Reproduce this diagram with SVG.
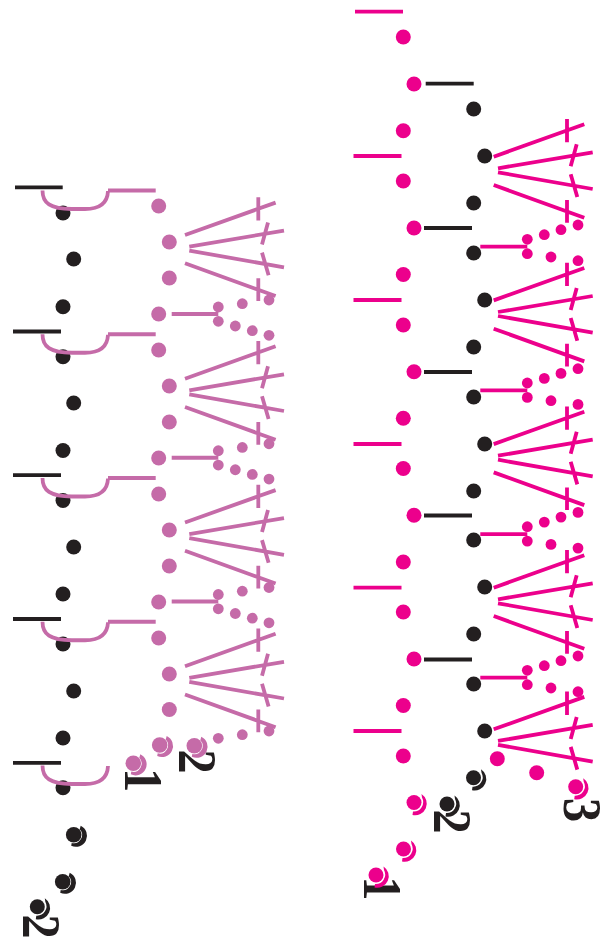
<svg xmlns="http://www.w3.org/2000/svg" width="613" height="941" viewBox="0 0 613 941">
<style>
.k{color:#231f20}.m{color:#ec008c}.p{color:#c56ba8}
.ln{fill:none;stroke:currentColor;stroke-width:3.8}
.dot{fill:currentColor}
.num{font-family:"Liberation Serif","Times New Roman",serif;font-weight:bold;font-size:55px;fill:#231f20;text-anchor:middle}
</style>
<defs>
<circle id="d" class="dot" r="7.5"/>
<circle id="s" class="dot" r="5.4"/>
<path id="fan3" class="ln" d="M9 .7L99.6-31.7M13.3 12.3L108-3.7M13.3 16.3L108 33M82.3-37V-13.7M92-11.7L86 10.3M86 18.3L92.6 41"/>
<g id="fan"><use href="#fan3"/><path class="ln" d="M9 29L99.6 61.7M82.3 44V66.7"/></g>
<g id="sw"><circle class="dot" r="7.5"/><path class="dot" d="M7.5-8.5A11.6 11.6 0 0 1-1.5 12.5L-1 9A9.5 9.5 0 0 0 8-5Z"/></g>
<g id="sw2"><circle class="dot" r="7.8"/><path class="dot" d="M7-9A11 11 0 0 1-2.5 11L-2 8.3A8.3 8.3 0 0 0 6-5.5Z"/></g>
<path id="br" class="ln" d="M42.5 190.5C42.5 203 50 209 72 209L85 209C100 209 107.5 203 108 191"/>
<path id="tail" class="ln" d="M108 190.5H155.7"/>
</defs>

<g id="labels">
<text class="num" transform="translate(125 780) rotate(90) scale(.88 1)">1</text>
<text class="num" transform="translate(179 761.7) rotate(90) scale(.88 1)">2</text>
<text class="num" transform="translate(22.7 926.7) rotate(90) scale(.88 1)">2</text>
<text class="num" transform="translate(364.3 888.3) rotate(90) scale(.88 1)">1</text>
<text class="num" transform="translate(434.3 821.7) rotate(90) scale(.88 1)">2</text>
<text class="num" transform="translate(564 810) rotate(90) scale(.88 1)">3</text>
</g>

<g id="left-black" class="k">
<g id="left-bars" class="ln"><path d="M15 187.3H62.7M13 331.5H61M13 475.2H61M13 619H61M13 762.8H61"/></g>
<use href="#d" x="63" y="213"/><use href="#d" x="73.7" y="259"/><use href="#d" x="63" y="306.7"/>
<use href="#d" x="63" y="356.7"/><use href="#d" x="73.7" y="403"/><use href="#d" x="63" y="450.5"/>
<use href="#d" x="63" y="500.5"/><use href="#d" x="73.7" y="547"/><use href="#d" x="63" y="594"/>
<use href="#d" x="63" y="644"/><use href="#d" x="73.7" y="691"/><use href="#d" x="63" y="738"/>
<use href="#d" x="63" y="787.7"/>
<use href="#sw2" x="73.7" y="834.7"/><use href="#sw2" x="62.7" y="881.7"/><use href="#sw" x="37.3" y="906.7"/>
</g>

<g id="left-purple" class="p">
<g id="left-brackets">
<use href="#br"/><use href="#tail"/>
<use href="#br" y="143.75"/><use href="#tail" y="143.75"/>
<use href="#br" y="287.5"/><use href="#tail" y="287.5"/>
<use href="#br" y="431.25"/><use href="#tail" y="431.25"/>
<use href="#br" y="575"/>
</g>
<g id="left-dots">
<use href="#d" x="158.7" y="206"/><use href="#d" x="169.3" y="242"/><use href="#d" x="169.3" y="278"/><use href="#d" x="158.7" y="314"/>
<use href="#d" x="158.7" y="350"/><use href="#d" x="169.3" y="386"/><use href="#d" x="169.3" y="422"/><use href="#d" x="158.7" y="458"/>
<use href="#d" x="158.7" y="494"/><use href="#d" x="169.3" y="530"/><use href="#d" x="169.3" y="566"/><use href="#d" x="158.7" y="602"/>
<use href="#d" x="158.7" y="638"/><use href="#d" x="169.3" y="674"/><use href="#d" x="169.3" y="709.5"/>
<use href="#sw2" x="159.7" y="745"/><use href="#sw2" x="194.3" y="745.7"/><use href="#sw2" x="133.3" y="763.3"/>
</g>
<g id="left-fans">
<use href="#fan" x="176" y="234.3"/><use href="#fan" x="176" y="378"/><use href="#fan" x="176" y="521.8"/><use href="#fan" x="176" y="665.5"/>
</g>
<g id="left-small">
<g id="lg1"><use href="#s" x="269" y="300"/><use href="#s" x="242.3" y="303.7"/><use href="#s" x="218.3" y="307"/><use href="#s" x="218.3" y="321.3"/><use href="#s" x="235.3" y="326"/><use href="#s" x="252.3" y="330.7"/><use href="#s" x="269" y="335.3"/><path class="ln" d="M171.7 314H218.3"/></g>
<use href="#lg1" y="143.75"/><use href="#lg1" y="287.5"/>
<use href="#s" x="269" y="731"/><use href="#s" x="242.3" y="734.7"/><use href="#s" x="218.3" y="738.3"/>
</g>
</g>

<g id="right-pink" class="m">
<g id="right-bars" class="ln"><path d="M355 11.7H403M353.5 156H401.5M353.5 300H401.5M353.5 444H401.5M353.5 587.7H401.5M353.5 731H401.5"/></g>
<g id="right-dots">
<use href="#d" x="403.3" y="37"/><use href="#d" x="414" y="84"/>
<use href="#d" x="403.3" y="130.7"/><use href="#d" x="403.3" y="181"/><use href="#d" x="414" y="228"/>
<use href="#d" x="403.3" y="274.5"/><use href="#d" x="403.3" y="325"/><use href="#d" x="414" y="371.7"/>
<use href="#d" x="403.3" y="418.3"/><use href="#d" x="403.3" y="468.5"/><use href="#d" x="414" y="515.3"/>
<use href="#d" x="403.3" y="562"/><use href="#d" x="403.3" y="612"/><use href="#d" x="414" y="659"/>
<use href="#d" x="403.3" y="705.5"/><use href="#d" x="403.3" y="756"/>
<use href="#sw" x="414" y="802.5"/><use href="#sw" x="403.5" y="849"/><use href="#sw" x="376" y="875"/>
<use href="#d" x="497.3" y="758.7"/><use href="#d" x="536.7" y="772.7"/><use href="#sw" x="575.7" y="786.7"/>
</g>
<g id="right-fans">
<use href="#fan" x="484.7" y="156"/><use href="#fan" x="484.7" y="299.7"/><use href="#fan" x="484.7" y="443.4"/><use href="#fan" x="484.7" y="587"/><use href="#fan3" x="484.7" y="728.6"/>
</g>
<g id="right-small">
<g id="rg1"><use href="#s" x="578" y="225"/><use href="#s" x="561" y="229.7"/><use href="#s" x="544.3" y="234.7"/><use href="#s" x="527.3" y="239.3"/><use href="#s" x="527.3" y="253.7"/><use href="#s" x="551" y="257"/><use href="#s" x="578" y="260.7"/><path class="ln" d="M480.3 246.7H527.3"/></g>
<use href="#rg1" y="143.7"/><use href="#rg1" y="287.4"/><use href="#rg1" y="431"/>
</g>
</g>

<g id="right-black" class="k">
<g class="ln"><path d="M425.7 83.7H473.7M424 228H472M424 372H472M424 515.5H472M424 659.5H472"/></g>
<use href="#d" x="473.7" y="109"/><use href="#d" x="484.7" y="156"/><use href="#d" x="473.7" y="203"/><use href="#d" x="473.7" y="253"/>
<use href="#d" x="484.7" y="300"/><use href="#d" x="473.7" y="347"/><use href="#d" x="473.7" y="397"/>
<use href="#d" x="484.7" y="444"/><use href="#d" x="473.7" y="491"/><use href="#d" x="473.7" y="540"/>
<use href="#d" x="484.7" y="587"/><use href="#d" x="473.7" y="634"/><use href="#d" x="473.7" y="684"/>
<use href="#d" x="484.7" y="731"/>
<use href="#sw" x="473.5" y="777.7"/><use href="#sw" x="447" y="804"/>
</g>
</svg>
